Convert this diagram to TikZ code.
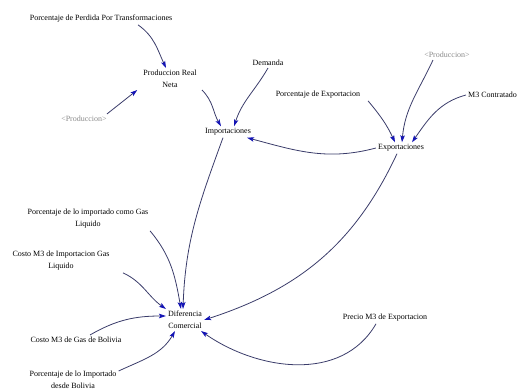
\documentclass[tikz,border=0pt]{standalone}
\usepackage{fontspec}
\setmainfont{Liberation Serif}
\usetikzlibrary{arrows.meta}
\definecolor{linkc}{HTML}{3A3C6A}
\definecolor{tipc}{HTML}{1414B4}
\definecolor{shadowc}{HTML}{8A8A8A}
\tikzset{
  var/.style={font=\fontsize{8}{12}\selectfont, align=center, inner sep=2pt},
  shadowvar/.style={var, text=shadowc},
  link/.style={draw=linkc, line width=0.8pt,
    -{Stealth[length=7pt,width=4.5pt,inset=1.5pt,color=tipc]}}
}
\begin{document}
\begin{tikzpicture}[x=1pt,y=1pt]
\useasboundingbox (0,0) rectangle (524,390);
% variables
\node[var] (perdida) at (101,371) {Porcentaje de Perdida Por Transformaciones};
\node[var] (prn) at (170,311) {Produccion Real\\Neta};
\node[shadowvar] (prod1) at (84,271) {<Produccion>};
\node[var] (demanda) at (268,327) {Demanda};
\node[var] (imp) at (228,258) {Importaciones};
\node[shadowvar] (prod2) at (447,335) {<Produccion>};
\node[var] (pexp) at (318,295) {Porcentaje de Exportacion};
\node[var, anchor=west] (m3c) at (466,295) {M3 Contratado};
\node[var] (exp) at (401,242) {Exportaciones};
\node[var] (plig) at (88,171) {Porcentaje de lo importado como Gas\\Liquido};
\node[var] (cimp) at (61,129) {Costo M3 de Importacion Gas\\Liquido};
\node[var] (dif) at (185,70) {Diferencia\\Comercial};
\node[var] (cbol) at (76,50) {Costo M3 de Gas de Bolivia};
\node[var] (pbol) at (73,10) {Porcentaje de lo Importado\\desde Bolivia};
\node[var] (precio) at (385,72) {Precio M3 de Exportacion};
% causal links
\draw[link] ([xshift=37pt]perdida.south) to[out=-35,in=115] ([xshift=-4pt]prn.north);
\draw[link] ([xshift=-2pt]prod1.north east) -- ([xshift=-4pt]prn.south west);
\draw[link] ([xshift=32pt]prn.south) to[out=-45,in=120] ([xshift=-7pt]imp.north);
\draw[link] (demanda.south) to[out=-120,in=72] ([xshift=6pt]imp.north);
\draw[link] ([xshift=50pt]pexp.south) to[out=-50,in=115] ([xshift=-6pt]exp.north);
\draw[link] ([xshift=-14pt]prod2.south) to[out=-115,in=85] ([xshift=1pt]exp.north);
\draw[link] (m3c.west) to[out=195,in=55] ([xshift=11pt]exp.north);
\draw[link] (exp.west) to[out=195,in=-15] ([xshift=-6pt]imp.south east);
\draw[link] ([xshift=-5pt]imp.south) to[out=-110,in=88] ([xshift=-2pt]dif.north);
\draw[link] ([xshift=-4pt]exp.south) to[out=-115,in=18] (dif.east);
\draw[link] ([xshift=62pt]plig.south) to[out=-50,in=100] ([xshift=-4pt]dif.north);
\draw[link] ([xshift=62pt]cimp.south) to[out=-25,in=145] (dif.north west);
\draw[link] ([xshift=14pt]cbol.north) to[out=30,in=180] ([yshift=4pt]dif.west);
\draw[link] ([yshift=-2pt]pbol.north east) to[out=25,in=-120] ([xshift=-10pt]dif.south);
\draw[link] ([xshift=-9pt]precio.south) to[out=-120,in=-35] ([xshift=-3pt]dif.south east);
\end{tikzpicture}
\end{document}
